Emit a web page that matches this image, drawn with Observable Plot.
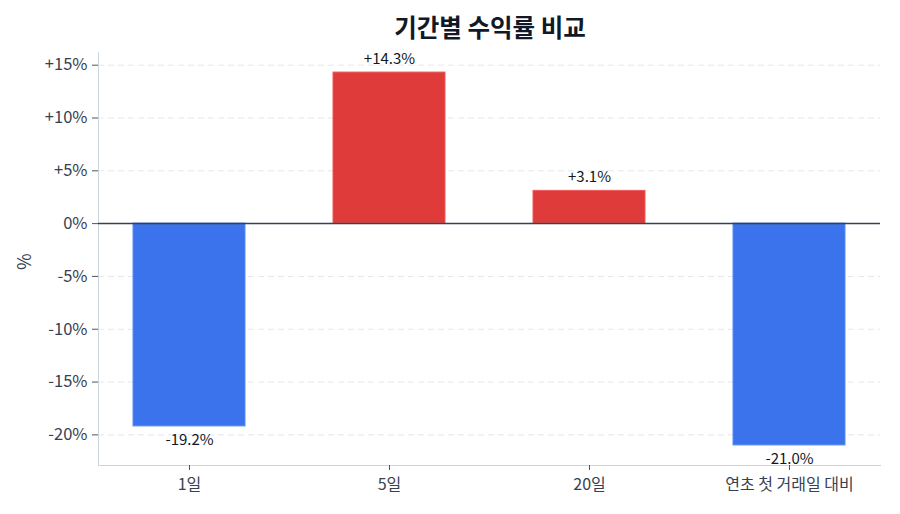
<!DOCTYPE html>
<html><head><meta charset="utf-8">
<script src="https://cdn.jsdelivr.net/npm/d3@7"></script>
<script src="https://cdn.jsdelivr.net/npm/@observablehq/plot@0.6"></script>
<style>
body{margin:0;background:#fff;font-family:"Noto Sans CJK KR","Noto Sans",sans-serif;}
#title{height:44px;line-height:54px;text-align:center;font-size:24.5px;font-weight:700;color:#111827;padding-left:80px;}
</style></head>
<body>
<div id="title">기간별 수익률 비교</div>
<div id="chart"></div>
<script>
const categories = ["1일", "5일", "20일", "연초 첫 거래일 대비"];
const returns = [-19.2, 14.3, 3.1, -21.0];
const yTicks = [-20, -15, -10, -5, 0, 5, 10, 15];
const yDomain = [-22.9, 16.2];
const yLabel = "%";

const data = categories.map((c, i) => ({cat: c, v: returns[i]}));
const fmt = v => (v > 0 ? "+" : "") + v.toFixed(1) + "%";
const tfmt = v => (v > 0 ? "+" : "") + v + "%";

const plot = Plot.plot({
  width: 900, height: 470,
  marginLeft: 98, marginRight: 20, marginTop: 8, marginBottom: 49,
  style: {fontFamily: '"Noto Sans CJK KR","Noto Sans",sans-serif', fontSize: "16px", color: "#374151"},
  x: {domain: categories, paddingInner: 0.44, paddingOuter: 0.175},
  y: {domain: yDomain},
  marks: [
    Plot.gridY(yTicks, {stroke: "#e5e7eb", strokeOpacity: 1, strokeDasharray: "6,4"}),
    Plot.frame({anchor: "left", stroke: "#cbd5e1"}),
    Plot.frame({anchor: "bottom", stroke: "#cbd5e1"}),
    Plot.barY(data, {x: "cat", y: "v", fill: d => d.v >= 0 ? "#e03b3b" : "#3b73ed", stroke: d => d.v >= 0 ? "#f05a5a" : "#5a8cf5", strokeWidth: 1}),
    Plot.ruleY([0], {stroke: "#374151", strokeWidth: 1.5}),
    Plot.text(data.filter(d => d.v >= 0), {x: "cat", y: "v", text: d => fmt(d.v), dy: -9, lineAnchor: "bottom", fill: "#111827", fontSize: 15}),
    Plot.text(data.filter(d => d.v < 0), {x: "cat", y: "v", text: d => fmt(d.v), dy: 8, lineAnchor: "top", fill: "#111827", fontSize: 15}),
    Plot.axisY({ticks: yTicks, tickFormat: tfmt, tickSize: 6, tickPadding: 5, stroke: "#4b5563", fill: "#374151", fontSize: 16.5, label: null}),
    Plot.text([yLabel], {frameAnchor: "left", dx: -73, dy: 11, rotate: -90, fontSize: 18, fill: "#374151"}),
    Plot.axisX({tickSize: 5, tickPadding: 8, stroke: "#4b5563", fill: "#374151", fontSize: 16, label: null})
  ]
});
document.getElementById("chart").appendChild(plot);
</script>
</body></html>
